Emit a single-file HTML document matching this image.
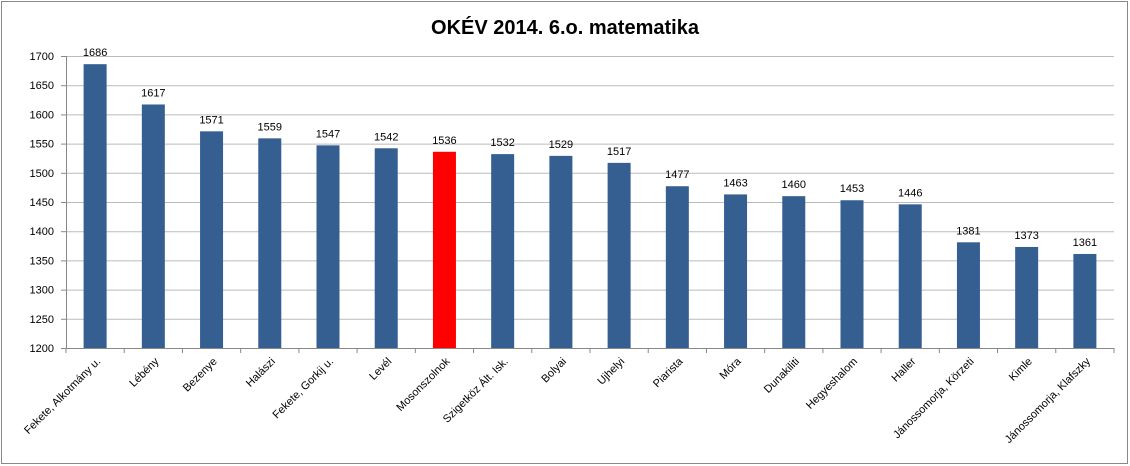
<!DOCTYPE html>
<html><head><meta charset="utf-8"><style>
body{margin:0;background:#fff;}
svg{display:block;font-family:"Liberation Sans",sans-serif;}
</style></head><body>
<svg width="1130" height="466">
<rect x="1.5" y="1.5" width="1126" height="462" fill="#fff" stroke="#888" stroke-width="1"/>
<text x="565" y="34" text-anchor="middle" font-size="20" font-weight="bold">OKÉV 2014. 6.o. matematika</text>
<g id="grid"></g><g id="bars"></g><g id="labels"></g>
</svg>
<script>
const categories=["Fekete, Alkotmány u.","Lébény","Bezenye","Halászi","Fekete, Gorkij u.","Levél","Mosonszolnok","Szigetköz Ált. Isk.","Bolyai","Ujhelyi","Piarista","Móra","Dunakiliti","Hegyeshalom","Haller","Jánossomorja, Körzeti","Kimle","Jánossomorja, Klafszky"];
const values=[1686,1617,1571,1559,1547,1542,1536,1532,1529,1517,1477,1463,1460,1453,1446,1381,1373,1361];
const highlight=["Mosonszolnok"];
const yTicks=[1200,1250,1300,1350,1400,1450,1500,1550,1600,1650,1700];
const NS="http://www.w3.org/2000/svg";
const x0=66,x1=1114,yTop=56,yBot=348,yMin=1200,yMax=1700;
const band=(x1-x0)/categories.length;
function y(v){return yBot-(v-yMin)/(yMax-yMin)*(yBot-yTop);}
function xc(i){return x0+band*(i+0.5);}
function mk(tag,attrs,parent){const e=document.createElementNS(NS,tag);for(const k in attrs)e.setAttribute(k,attrs[k]);parent.appendChild(e);return e;}
const grid=document.getElementById('grid'),bars=document.getElementById('bars'),labels=document.getElementById('labels');
yTicks.forEach(t=>{
  const l=mk('line',{x1:x0,x2:x1,y1:y(t)+0.5,y2:y(t)+0.5,stroke:t===yMin?'#888':'#bbb'},grid);
  
  
  const tx=mk('text',{x:x0-12,y:y(t)+4,'text-anchor':'end','font-size':'11'},grid);
  tx.textContent=t;
  
  
  mk('line',{x1:x0-5,x2:x0,y1:y(t)+0.5,y2:y(t)+0.5,stroke:'#888'},grid);
});
mk('line',{x1:x0+0.5,x2:x0+0.5,y1:yTop,y2:yBot,stroke:'#888'},grid);
for(let i=0;i<=categories.length;i++){mk('line',{x1:x0+band*i,x2:x0+band*i,y1:yBot,y2:yBot+5,stroke:'#888'},grid);}
categories.forEach((c,i)=>{
  const v=values[i];
  const r=mk('rect',{x:xc(i)-11.5,y:y(v),width:23,height:yBot-y(v),fill:highlight.includes(c)?'#ff0000':'#355e91'},bars);
  
  
  const vl=mk('text',{x:xc(i),y:y(v)-8,'text-anchor':'middle','font-size':'11'},labels);
  vl.textContent=v;
  
  
  const cl=mk('text',{x:0,y:0,'text-anchor':'end','font-size':'11',transform:`translate(${xc(i)+6},${yBot+14}) rotate(-45)`},labels);
  cl.textContent=c;
  
  
});
</script>
</body></html>
